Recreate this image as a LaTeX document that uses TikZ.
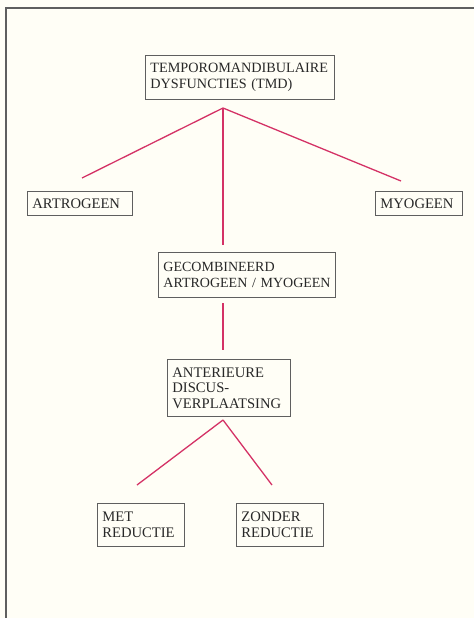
\documentclass[tikz,border=0pt]{standalone}
\usepackage{fontspec}
\setmainfont{Liberation Serif}
\definecolor{lijn}{RGB}{212,50,102}
\definecolor{rand}{RGB}{95,95,95}
\definecolor{papier}{RGB}{255,254,246}
\definecolor{inkt}{RGB}{40,40,40}

\begin{document}
\begin{tikzpicture}[x=1pt, y=-1pt,
			box/.style = {draw=rand, line width=0.9pt, anchor=north west, align=left, inner xsep=5pt, inner ysep=0pt, text=inkt, font=\fontsize{14.6}{15.5}\selectfont, execute at begin node={\hyphenpenalty=10000}},
			link/.style={draw=lijn, line width=1.3pt}] 
			
			\fill[papier] (0,0) rectangle (474,618);
			\useasboundingbox (0,0) rectangle (474,618);
			\draw[rand, line width=1.5pt] (6,618) -- (6,8) -- (474,8);
			
			\node[box, text width=179pt, minimum height=44pt, font=\fontsize{14.2}{15.5}\selectfont] (tmd) at (145,55) {TEMPOROMANDIBULAIRE\\DYSFUNCTIES (TMD)};
			\node[box, text width=95pt, minimum height=24pt] (artro) at (27,191) {ARTROGEEN};
			\node[box, text width=77pt, minimum height=24pt] (myo) at (375,191) {MYOGEEN};
			\node[box, text width=167pt, minimum height=45pt, font=\fontsize{14}{15.5}\selectfont] (gecomb) at (158,252) {GECOMBINEERD\\\mbox{ARTROGEEN / MYOGEEN}};
			\node[box, text width=113pt, minimum height=57pt] (ant) at (167,359) {ANTERIEURE\\DISCUS-\\VERPLAATSING};
			\node[box, text width=77pt, minimum height=43pt] (met) at (97,503) {MET\\REDUCTIE};
			\node[box, text width=77pt, minimum height=43pt] (zonder) at (236,503) {ZONDER\\REDUCTIE};
			
			\coordinate (tmdsplit) at (223,108);
			\coordinate (artrotop) at (82,178);
			\coordinate (myotop) at (401,181);
			\coordinate (gecombtop) at (223,245);
			\coordinate (gecombbot) at (223,303);
			\coordinate (anttop) at (223,350);
			\coordinate (antsplit) at (223,420);
			\coordinate (mettop) at (137,485);
			\coordinate (zondertop) at (272,485);
			
			\draw[link] (tmdsplit) to (artrotop);
			\draw[link] (tmdsplit) to (myotop);
			\draw[link] (tmdsplit) to (gecombtop);
			\draw[link] (gecombbot) to (anttop);
			\draw[link] (antsplit) to (mettop);
			\draw[link] (antsplit) to (zondertop);
			
		\end{tikzpicture}
\end{document}
